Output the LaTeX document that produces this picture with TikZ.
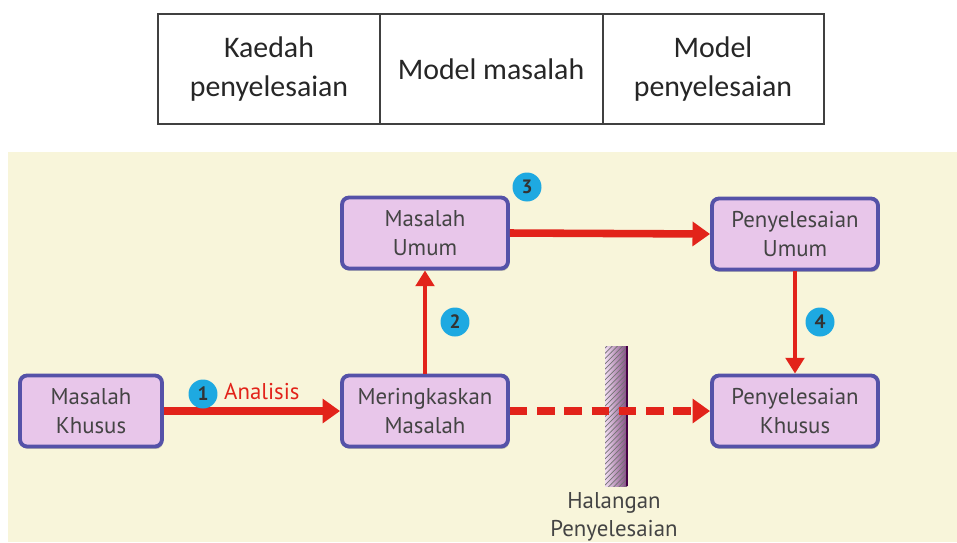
\documentclass[tikz,border=0pt]{standalone}
\usepackage{fontspec}
\setmainfont{PT Sans}
\newfontfamily\tablefont{Carlito}
\usepackage{xcolor}
\usetikzlibrary{arrows.meta,patterns,shadows}

\definecolor{panelbg}{HTML}{F8F5DA}
\definecolor{boxfill}{HTML}{E8C6EA}
\definecolor{boxline}{HTML}{5552A8}
\definecolor{arrowred}{HTML}{E2231A}
\definecolor{stepblue}{HTML}{1EA9E1}
\definecolor{labelgray}{HTML}{444444}

\begin{document}
\begin{tikzpicture}[x=0.02cm, y=-0.02cm,
    probbox/.style={draw=boxline, line width=2.2pt, fill=boxfill, rounded corners=4pt,
        align=center, minimum width=3.32cm, minimum height=1.42cm,
        font=\fontsize{13}{16.5}\selectfont, text=labelgray,
        drop shadow={shadow xshift=0.6pt, shadow yshift=-1.4pt, opacity=0.45}},
    stepnum/.style={circle, fill=stepblue, inner sep=0pt, minimum size=16.5pt,
        font=\bfseries\fontsize{11}{11}\selectfont, text=black!80},
    bigarrow/.style={draw=arrowred, line width=4.3pt, -{Triangle[length=10pt,width=13.5pt]}},
    thinarrow/.style={draw=arrowred, line width=2.4pt, -{Triangle[length=9pt,width=10.5pt]}},
    cell/.style={align=center, font=\tablefont\fontsize{17}{22}\selectfont, text=black!85}]
  \useasboundingbox (0,0) rectangle (957,542);

  % top table
  \draw[line width=0.7pt, black!75] (158,14) rectangle (824,124);
  \draw[line width=0.7pt, black!75] (380,14) -- (380,124);
  \draw[line width=0.7pt, black!75] (603,14) -- (603,124);
  \node[cell] (kaedah) at (269,69) {Kaedah\\penyelesaian};
  \node[cell] (modelm) at (491,69) {Model masalah};
  \node[cell] (models) at (713,69) {Model\\penyelesaian};

  % panel
  \fill[panelbg] (8,152) rectangle (957,542);

  % barrier
  \shade[left color=boxfill!60, right color=violet!60!black!70] (605,346) rectangle (627,486);
  \fill[pattern=north east lines, pattern color=black!55] (605,346) rectangle (627,486);
  \draw[violet!55!black, line width=1pt] (627,346) -- (627,486);
  \node[align=center, text=labelgray, font=\fontsize{13}{16}\selectfont] (halangan) at (614,517) {Halangan\\Penyelesaian};

  % boxes
  \node[probbox, minimum width=2.84cm] (khusus) at (91,411) {Masalah\\Khusus};
  \node[probbox] (ringkas) at (425,411) {Meringkaskan\\Masalah};
  \node[probbox] (umum) at (425,233) {Masalah\\Umum};
  \node[probbox] (selumum) at (795,234) {Penyelesaian\\Umum};
  \node[probbox] (selkhusus) at (795,411) {Penyelesaian\\Khusus};

  % arrows
  \draw[bigarrow] (khusus.east) -- (ringkas.west);
  \draw[thinarrow] (ringkas.north) -- (umum.south);
  \draw[bigarrow] (umum.east) -- (selumum.west);
  \draw[thinarrow] (selumum.south) -- (selkhusus.north);
  \draw[bigarrow, dash pattern=on 10pt off 5.5pt] (ringkas.east) -- (selkhusus.west);

  % labels
  \node[stepnum] (s1) at (203,394) {1};
  \node[text=arrowred, font=\fontsize{13}{16}\selectfont, anchor=west] (analisis) at (218,392) {Analisis};
  \node[stepnum] (s2) at (455,322) {2};
  \node[stepnum] (s3) at (527,187) {3};
  \node[stepnum] (s4) at (820,322) {4};
\end{tikzpicture}
\end{document}
